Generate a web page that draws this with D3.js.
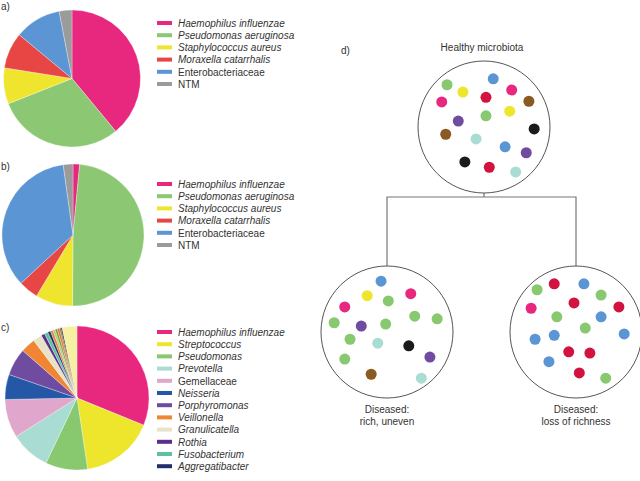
<!DOCTYPE html>
<html><head><meta charset="utf-8">
<script src="https://cdn.jsdelivr.net/npm/d3@7"></script>
<style>
html,body{margin:0;padding:0;background:#fff;}
svg{display:block;}
text{font-family:"Liberation Sans","Arial",sans-serif;fill:#333;}
</style></head>
<body>
<svg id="chart" width="640" height="481"></svg>
<script>
// ---------- DATA ----------
const catsA = ["Haemophilus influenzae","Pseudomonas aeruginosa","Staphylococcus aureus","Moraxella catarrhalis","Enterobacteriaceae","NTM"];
const italicA = [true,true,true,true,false,false];
const colorsA = ["#e8277f","#8cc873","#efe52e","#e84545","#5b95d4","#9b9b9b"];
const valuesA = [39,30,8.5,8.5,11,3];
const valuesB = [1.5,48.6,8.5,4.5,34.7,2.2];

const catsC = ["Haemophilus influenzae","Streptococcus","Pseudomonas","Prevotella","Gemellaceae","Neisseria","Porphyromonas","Veillonella","Granulicatella","Rothia","Fusobacterium","Aggregatibacter"];
const italicC = [true,true,true,true,false,true,true,true,true,true,true,true];
const colorsC = ["#e8277f","#ede62c","#88c86f","#a9dcd3","#e0a6cb","#2458a7","#6f4c9f","#f08533","#e8e3c5","#5c2e8b","#5fbfa1","#232f6a"];
const valuesC = [31,16.4,9.4,8.9,8.6,5.6,6.1,3.3,2.0,0.8,0.8,0.6];
// unlabelled minor taxa at the end of pie c
const extraC = [0.6,0.5,0.5,0.5,0.3,0.3,3.3];
const extraColorsC = ["#e8843a","#a6cf7a","#7f9a3c","#d8772a","#8a5a2a","#222222","#f6f1a2"];

const panelLabels = ["a)","b)","c)","d)"];
const diagramTitles = ["Healthy microbiota"];
const diseasedLabels = [["Diseased:","rich, uneven"],["Diseased:","loss of richness"]];

const dotColors = {g:"#88c86f",y:"#ede62c",p:"#e8277f",b:"#5b95d4",r:"#d3133f",n:"#8b5a20",v:"#6f4c9f",k:"#1b1b1b",c:"#a9dcd3"};
// dot positions, normalized to circle radius
const dotsHealthy = [[-0.56,-0.64,"g"],[-0.32,-0.53,"y"],[-0.64,-0.38,"p"],[0.14,-0.73,"b"],[0.03,-0.45,"r"],[0.42,-0.56,"p"],[0.68,-0.39,"n"],[0.39,-0.24,"y"],[0.03,-0.17,"g"],[-0.39,-0.09,"v"],[0.76,0.03,"k"],[-0.58,0.11,"n"],[-0.12,0.18,"c"],[0.32,0.30,"b"],[0.64,0.39,"v"],[-0.29,0.53,"k"],[0.08,0.61,"r"],[0.48,0.68,"c"]];
const dotsUneven = [[-0.09,-0.77,"b"],[-0.30,-0.55,"y"],[0.02,-0.47,"g"],[0.36,-0.58,"p"],[-0.64,-0.38,"p"],[-0.80,-0.14,"g"],[-0.39,-0.09,"v"],[-0.02,-0.12,"g"],[0.42,-0.24,"g"],[0.76,-0.20,"g"],[-0.56,0.11,"g"],[-0.14,0.17,"c"],[0.33,0.21,"k"],[0.65,0.38,"v"],[-0.64,0.41,"g"],[-0.24,0.64,"n"],[0.52,0.70,"c"]];
const dotsLoss = [[-0.59,-0.64,"g"],[-0.33,-0.73,"r"],[0.12,-0.73,"b"],[0.38,-0.56,"g"],[-0.68,-0.36,"p"],[-0.03,-0.44,"r"],[0.65,-0.38,"r"],[-0.29,-0.23,"g"],[0.38,-0.23,"b"],[0.14,-0.06,"g"],[-0.62,0.11,"b"],[-0.33,0.05,"b"],[0.73,0.03,"b"],[-0.11,0.30,"r"],[0.21,0.32,"r"],[-0.41,0.45,"b"],[0.05,0.62,"r"],[0.45,0.70,"g"]];

// ---------- DRAW ----------
const svg = d3.select("#chart");
const FS = 10;

function drawPie(cx, cy, r, values, colors){
  const pie = d3.pie().sort(null).value(d=>d);
  const arc = d3.arc().innerRadius(0).outerRadius(r);
  const g = svg.append("g").attr("transform",`translate(${cx},${cy})`);
  g.selectAll("path").data(pie(values)).join("path")
    .attr("d",arc).attr("fill",(d,i)=>colors[i])
    .attr("stroke","#fff").attr("stroke-width",0.3);
}
function drawLegend(x, y0, names, italics, colors){
  const yS = d3.scalePoint().domain(d3.range(names.length)).range([y0, y0 + 12.2*(names.length-1)]);
  const g = svg.append("g");
  names.forEach((n,i)=>{
    g.append("rect").attr("x",x).attr("y",yS(i)-2).attr("width",15).attr("height",4).attr("fill",colors[i]);
    g.append("text").attr("x",x+21).attr("y",yS(i)+3.8).attr("font-size",FS)
      .attr("font-style",italics[i]?"italic":"normal").text(n);
  });
}

drawPie(72,78.5,68.5,valuesA,colorsA);
drawLegend(157,23,catsA,italicA,colorsA);
drawPie(73,235,71,valuesB,colorsA);
drawLegend(157,184,catsA,italicA,colorsA);
drawPie(77,398,72,valuesC.concat(extraC),colorsC.concat(extraColorsC));
drawLegend(157,332,catsC,italicC,colorsC);

const labelPos = [[1,10],[1,170],[1,331],[341,54]];
panelLabels.forEach((t,i)=>{
  svg.append("text").attr("x",labelPos[i][0]).attr("y",labelPos[i][1]).attr("font-size",FS).text(t);
});

// diagram
function drawCircle(cx, cy, r, dots){
  const sx = d3.scaleLinear().domain([-1,1]).range([cx-r,cx+r]);
  const sy = d3.scaleLinear().domain([-1,1]).range([cy-r,cy+r]);
  svg.append("circle").attr("cx",cx).attr("cy",cy).attr("r",r).attr("fill","none").attr("stroke","#555").attr("stroke-width",1);
  svg.append("g").selectAll("circle").data(dots).join("circle")
    .attr("cx",d=>sx(d[0])).attr("cy",d=>sy(d[1])).attr("r",5.5).attr("fill",d=>dotColors[d[2]]);
}
const R = 66;
const H = [484,127], L = [387,332], Rt = [576,332];
// connector
svg.append("path").attr("fill","none").attr("stroke","#777").attr("stroke-width",1.2)
  .attr("d",`M${H[0]},${H[1]+R}V197H${L[0]}V${L[1]-R}M${H[0]},197H${Rt[0]}V${Rt[1]-R}`);
drawCircle(H[0],H[1],R,dotsHealthy);
drawCircle(L[0],L[1],R,dotsUneven);
drawCircle(Rt[0],Rt[1],R,dotsLoss);

svg.append("text").attr("x",482).attr("y",51).attr("text-anchor","middle").attr("font-size",FS).text(diagramTitles[0]);
[L,Rt].forEach((c,i)=>{
  diseasedLabels[i].forEach((t,j)=>{
    svg.append("text").attr("x",c[0]).attr("y",413+j*11.5).attr("text-anchor","middle").attr("font-size",FS).text(t);
  });
});
</script>
</body></html>
